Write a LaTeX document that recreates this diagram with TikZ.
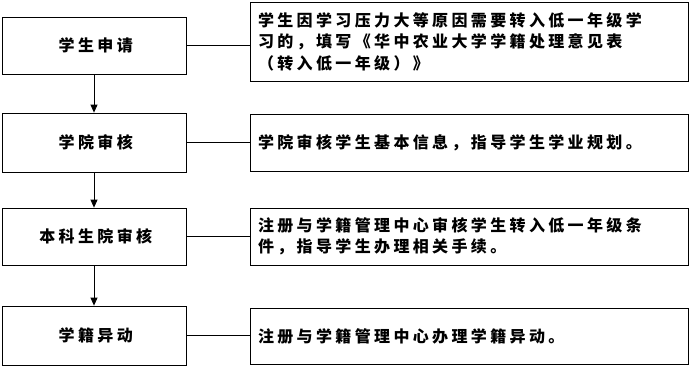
\documentclass[tikz,border=0pt]{standalone}
\usepackage{fontspec}
\newfontfamily\cjk[LetterSpace=21]{Noto Sans CJK SC}
\usetikzlibrary{arrows.meta}
\tikzset{
  every node/.style={font={\cjk\bfseries\fontsize{16}{21.5}\selectfont}},
  stepbox/.style={draw=black, line width=0.8pt, minimum width=184pt, inner sep=0pt},
  notebox/.style={draw=black, line width=0.8pt, minimum width=438pt, text width=422pt, inner xsep=8pt, inner ysep=0pt, align=left},
  link/.style={line width=0.8pt},
  flow/.style={line width=0.8pt, -{Triangle[length=8pt,width=7pt]}}
}
\begin{document}
\begin{tikzpicture}[x=1pt,y=-1pt]
\useasboundingbox (0,0) rectangle (690,367);
\node[stepbox, minimum height=57pt] (l1) at (94,45.5) {学生申请\kern-3.5pt};
\node[stepbox, minimum height=59pt] (l2) at (94,142.5) {学院审核\kern-3.5pt};
\node[stepbox, minimum height=57pt] (l3) at (94,236.5) {本科生院审核\kern-3.5pt};
\node[stepbox, minimum height=59pt] (l4) at (94,335.5) {学籍异动\kern-3.5pt};

\node[notebox, minimum height=79pt] (r1) at (469,41.5) {学生因学习压力大等原因需要转入低一年级学\\习的，填写《华中农业大学学籍处理意见表\\（转入低一年级）》};
\node[notebox, minimum height=57pt] (r2) at (469,142.5) {学院审核学生基本信息，指导学生学业规划。};
\node[notebox, minimum height=57pt] (r3) at (469,236.5) {注册与学籍管理中心审核学生转入低一年级条\\件，指导学生办理相关手续。};
\node[notebox, minimum height=56pt] (r4) at (469,336) {注册与学籍管理中心办理学籍异动。};

\draw[flow] (l1) -- (l2);
\draw[flow] (l2) -- (l3);
\draw[flow] (l3) -- (l4);

\draw[link] (l1.east) -- (l1.east -| r1.west);
\draw[link] (l2.east) -- (l2.east -| r2.west);
\draw[link] (l3.east) -- (l3.east -| r3.west);
\draw[link] (l4.east) -- (l4.east -| r4.west);
\end{tikzpicture}
\end{document}
